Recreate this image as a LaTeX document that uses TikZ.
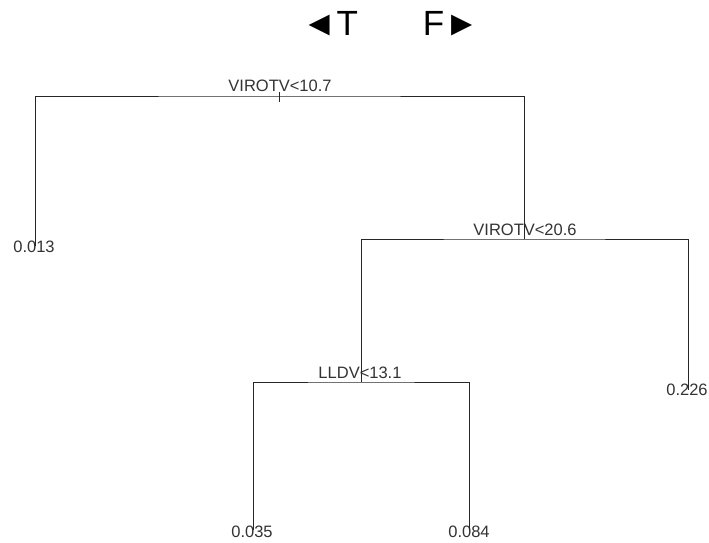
\documentclass[tikz,border=0pt]{standalone}
\usepackage{fontspec}
\setmainfont{Liberation Sans}
\usetikzlibrary{positioning}

\begin{document}
\begin{tikzpicture}[
    x=1pt, y=-1pt,
    branch/.style={draw=black!85, line width=0.9pt},
    splitlabel/.style={anchor=base, inner sep=0pt, text=black!80, font=\fontsize{16.5}{18}\selectfont},
    leaflabel/.style={anchor=base, inner sep=0pt, text=black!80, font=\fontsize{16.5}{18}\selectfont},
    sidelabel/.style={anchor=base, inner sep=0pt, font=\fontsize{35}{40}\selectfont}
]
\useasboundingbox (0,0) rectangle (709,543);

% Split points and leaf ends
\coordinate (root) at (279,96);
\coordinate (virotv) at (524,239);
\coordinate (lldv) at (361,382);
\coordinate (leafa) at (35,246);
\coordinate (leafb) at (688,390);
\coordinate (leafc) at (253,530);
\coordinate (leafd) at (469,530);

% Direction key
\node[sidelabel] (keyT) at (330,36) {◄T};
\node[sidelabel] (keyF) at (451,36) {F►};

% Labels
\node[splitlabel] (rootlab) at (280,92) {VIROTV<10.7};
\node[splitlabel] (virotvlab) at (525,235) {VIROTV<20.6};
\node[splitlabel] (lldvlab) at (360,378) {LLDV<13.1};
\node[leaflabel] (leafalab) at (34,252) {0.013};
\node[leaflabel] (leafblab) at (687,395) {0.226};
\node[leaflabel] (leafclab) at (252,537) {0.035};
\node[leaflabel] (leafdlab) at (469,537) {0.084};

% Branches
\draw[branch] (leafa) |- (root) -| (virotv);
\draw[branch] (root) ++(0,-4) -- ++(0,10);
\draw[branch] (lldv) |- (virotv) -| (leafb);
\draw[branch] (leafc) |- (lldv) -| (leafd);

\end{tikzpicture}
\end{document}
